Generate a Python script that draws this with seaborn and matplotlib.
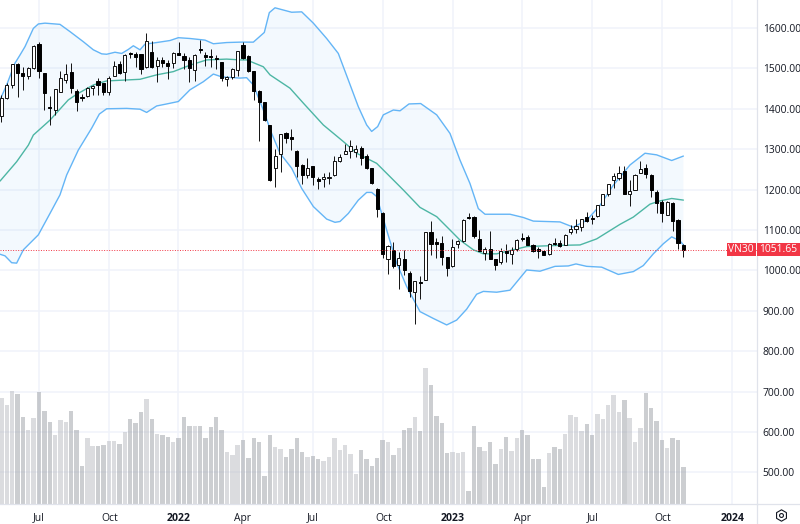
import numpy as np
import pandas as pd
import seaborn as sns
import matplotlib
matplotlib.use("Agg")
import matplotlib.pyplot as plt
from matplotlib.lines import Line2D
from matplotlib.patches import Rectangle

open_ = [1381,1426,1459,1510,1489,1481,1500,1560,1489,1405,1397,1442,1471,1491,1445,1428,1432,1451,1470,1463,
         1442,1482,1510,1492,1537,1536,1535,1503,1541,1507,1522,1514,1514,1537,1531,1522,1496,1549,1532,1531,
         1525,1515,1473,1479,1496,1558,1531,1494,1445,1416,1359,1254,1288,1339,1329,1296,1260,1236,1258,1225,
         1225,1228,1235,1270,1288,1296,1294,1302,1282,1253,1201,1143,1027,1051,1013,1028,994,947,971,976,
         1094,1071,1067,1032,1011,1065,1072,1132,1133,1078,1044,1053,1029,1020,1048,1041,1052,1080,1083,1062,
         1052,1047,1040,1068,1069,1063,1095,1103,1107,1131,1129,1134,1163,1190,1224,1229,1246,1190,1200,1242,
         1253,1237,1195,1170,1138,1167,1124,1063]
high = [1434,1463,1510,1513,1504,1504,1558,1566,1489,1432,1448,1494,1511,1514,1448,1437,1455,1459,1475,1463,
        1480,1519,1518,1536,1541,1541,1535,1587,1568,1529,1529,1521,1540,1565,1537,1529,1536,1570,1541,1548,
        1533,1517,1482,1500,1542,1566,1533,1494,1447,1418,1359,1301,1337,1343,1349,1298,1263,1277,1259,1230,
        1242,1244,1282,1288,1312,1322,1310,1308,1287,1254,1203,1145,1063,1070,1046,1051,999,974,986,1094,
        1122,1079,1084,1034,1078,1075,1127,1143,1134,1099,1058,1097,1029,1056,1066,1058,1078,1092,1088,1066,
        1058,1049,1068,1080,1076,1091,1113,1126,1128,1145,1136,1162,1190,1215,1242,1258,1258,1224,1238,1271,
        1263,1239,1200,1174,1171,1170,1126,1066]
low = [1368,1424,1451,1428,1447,1474,1499,1475,1397,1360,1385,1441,1463,1438,1395,1420,1430,1434,1434,1434,
       1434,1481,1486,1469,1525,1504,1486,1500,1500,1467,1504,1473,1500,1533,1498,1467,1469,1539,1507,1504,
       1498,1470,1457,1473,1480,1523,1492,1422,1321,1371,1222,1207,1244,1315,1298,1232,1214,1228,1211,1202,
       1207,1214,1233,1269,1287,1279,1280,1261,1251,1213,1131,1030,990,1005,953,989,935,867,928,975,
       1038,1030,1013,987,1009,1055,1070,1126,1081,1048,1026,1027,1001,1016,1020,1016,1049,1073,1062,1045,
       1030,1037,1039,1062,1058,1062,1091,1093,1097,1120,1116,1132,1161,1184,1203,1224,1189,1160,1199,1240,
       1229,1182,1141,1120,1136,1097,1053,1034]
close = [1426,1459,1510,1488,1481,1500,1555,1494,1438,1403,1448,1477,1486,1451,1418,1427,1451,1457,1459,1441,
         1477,1506,1488,1533,1536,1529,1499,1568,1504,1520,1513,1507,1537,1533,1522,1501,1533,1546,1529,1527,
         1523,1477,1479,1499,1542,1525,1494,1445,1418,1372,1224,1283,1337,1327,1326,1259,1236,1254,1232,1221,
         1230,1232,1272,1281,1296,1308,1301,1277,1253,1216,1153,1040,1061,1012,1030,1000,949,973,969,1094,
         1065,1066,1034,1005,1057,1072,1124,1130,1084,1048,1053,1029,1014,1047,1044,1051,1076,1078,1063,1047,
         1049,1039,1066,1066,1060,1088,1103,1110,1127,1122,1127,1161,1188,1213,1233,1242,1190,1196,1236,1250,
         1239,1198,1166,1141,1169,1122,1068,1051.65]
volume = [685,668,701,693,636,606,634,699,652,625,592,629,625,652,604,515,586,566,565,567,
          577,577,571,600,631,622,650,681,631,596,592,588,574,584,636,616,616,616,584,613,
          636,604,550,544,567,581,536,586,574,491,592,562,559,537,557,584,551,537,540,534,
          527,537,586,555,567,545,497,555,533,517,536,579,574,543,561,606,611,636,603,759,
          716,639,623,547,551,549,551,454,615,563,553,574,520,557,588,553,584,606,592,534,
          534,464,549,563,557,596,641,636,602,619,592,644,633,668,691,650,679,634,574,611,
          697,660,626,579,560,586,579,514]

upper_week = [0.74,1.98,3.53,4.46,5.4,6.95,7.88,9.12,11.91,13.78,16.26,18.12,19.67,20.6,22.15,23.4,24.64,25.57,26.81,27.74,
              29.91,32.4,33.95,36.12,38.92,40.47,42.95,45.43,47.92,49.96,50.89,51.95,55.05,56.92,59.09,61.57,63.74,65.61,67.47,69.02,
              69.95,71.07,72.12,73.99,75.23,76.9,79.08,82.06,84.54,86.4,88.26,89.81,91.06,95.71,98.19,100.06,105.02,107.5,109.99,112.47,
              114.95,118.06,120.85,123.02,125.82,128]
upper_band = [1422,1459,1513,1533,1554,1599,1610,1612,1609,1591,1566,1546,1536,1535,1540,1537,1547,1556,1546,1560,
              1564,1569,1576,1574,1570,1561,1564,1565,1565,1589,1638,1650,1639,1640,1612,1574,1537,1471,1405,1360,
              1344,1356,1385,1397,1395,1412,1413,1385,1339,1273,1215,1153,1139,1139,1131,1122,1120,1107,1124,1161,
              1211,1261,1290,1286,1272,1283]
lower_week = [0.74,1.67,2.91,3.84,5.09,7.88,10.05,11.91,13.15,15.33,17.81,19.24,20.6,24.33,26.81,28.05,29.91,31.78,33.95,36.12,
              38.6,40.47,42.02,45.43,46.67,47.92,49.78,51.33,52.88,55.05,56.92,59.09,61.57,63.12,64.05,65.61,67.47,69.02,69.95,70.88,
              72.74,74.61,76.47,78.95,81.44,83.92,85.78,87.64,89.5,90.75,93.23,95.71,98.81,101.3,104.09,106.57,108.0,109.99,112.78,115.88,
              118.68,120.54,122.4,124.27,125.82,127.37,128]
lower_band = [1040,1036,1019,1018,1051,1088,1141,1187,1236,1298,1352,1387,1400,1401,1399,1391,1407,1412,1418,1447,
              1467,1486,1479,1476,1477,1459,1397,1339,1290,1253,1203,1158,1127,1119,1121,1141,1174,1193,1193,1183,
              1100,1018,960,898,881,865,877,904,941,948,946,951,1001,998,1010,1011,1016,1010,1008,990,
              997,1012,1041,1066,1083,1073,1063]
mid_week = [0.74,3.84,6.02,6.95,10.05,13.46,15.02,18.12,20.6,23.71,26.81,29.91,33.02,36.12,39.22,42.95,45.43,46.67,49.78,51.02,
            54.74,57.23,60.95,64.67,67.16,70.88,73.37,75.85,78.95,82.06,84.54,86.4,88.88,90.75,93.23,95.71,98.81,105.02,108.75,111.85,
            116.2,118.68,121.78,123.64,125.82,128]
mid_band = [1221,1269,1310,1335,1372,1422,1436,1459,1469,1471,1473,1484,1492,1508,1521,1523,1521,1521,1504,1484,
            1451,1414,1360,1319,1290,1265,1232,1199,1156,1133,1100,1075,1051,1041,1041,1049,1059,1062,1063,1078,
            1114,1132,1164,1172,1178,1174]

x_tick_pos = [7.91,21.09,33.94,45.99,58.97,72.12,85.04,98.0,111.04,124.07,137.11]
x_tick_labels = ["Jul","Oct","2022","Apr","Jul","Oct","2023","Apr","Jul","Oct","2024"]
y_ticks = [500,600,700,800,900,1000,1100,1200,1300,1400,1500,1600]
last_price = 1051.65
symbol = "VN30"

TXT = "#131722"
GRID = "#f0f3fa"
LINE = "#e0e3eb"
FONT = "Open Sans"

sns.set_theme(style="white")
plt.rcParams["font.family"] = [FONT, "DejaVu Sans"]

W, H = 800, 524
fig = plt.figure(figsize=(W / 100, H / 100), dpi=100, facecolor="white")
ax_r, ax_b = 756.5, 503.5
ax = fig.add_axes([0, 1 - ax_b / H, ax_r / W, ax_b / H])
ax.set_facecolor("white")
ax.set_axisbelow(True)

df = pd.DataFrame({"week": np.arange(1, len(close) + 1), "open": open_, "high": high,
                   "low": low, "close": close, "volume": volume})
df["dir"] = np.where(df["close"] >= df["open"], "up", "down")
up = df[df["dir"] == "up"]
down = df[df["dir"] == "down"]

# volume columns, overlaid on the shared price scale
sns.barplot(data=df, x="week", y="volume", hue="dir", native_scale=True, dodge=False,
            palette={"up": "#b8bac2", "down": "#9a9da6"}, alpha=0.5, width=0.82,
            legend=False, errorbar=None, linewidth=0, ax=ax, zorder=1.5)

# Bollinger band fill and lines
ax.fill(np.r_[upper_week, lower_week[::-1]], np.r_[upper_band, lower_band[::-1]],
        color="#2196f3", alpha=0.05, linewidth=0, zorder=2)
for xs, ys, col in [(upper_week, upper_band, "#64b5f6"), (lower_week, lower_band, "#64b5f6"),
                    (mid_week, mid_band, "#4db6a4")]:
    sns.lineplot(x=xs, y=ys, sort=False, estimator=None, errorbar=None, color=col,
                 linewidth=1.0, ax=ax, zorder=2.5)

# candles
ax.vlines(df["week"], df["low"], df["high"], color="#111111", linewidth=0.7, zorder=3)
ax.bar(up["week"], up["close"] - up["open"], bottom=up["open"], width=0.58,
       facecolor="white", edgecolor="#111111", linewidth=0.7, zorder=3.5)
ax.bar(down["week"], down["close"] - down["open"], bottom=down["open"], width=0.58,
       facecolor="#000000", edgecolor="#000000", linewidth=0.7, zorder=3.5)

# last price
ax.axhline(last_price, color="#f23645", linewidth=0.7, linestyle=(0, (1, 1.6)), zorder=4)

ax.set_xlim(0.74, 0.74 + ax_r / 5.37)
ax.set_ylim(423, 1669.3)
ax.set_xlabel("")
ax.set_ylabel("")
ax.yaxis.tick_right()
ax.set_yticks(y_ticks)
ax.set_yticklabels([f"{v:.2f}" for v in y_ticks], fontsize=7.4, color=TXT)
ax.set_xticks(x_tick_pos)
ax.set_xticklabels(x_tick_labels, fontsize=7.4, color=TXT)
for lab in ax.get_xticklabels():
    if lab.get_text().isdigit():
        lab.set_fontweight("bold")
        lab.set_fontsize(7.6)
ax.tick_params(axis="x", length=0, pad=6.5)
ax.tick_params(axis="y", length=0, pad=4.5)
ax.grid(True, color=GRID, linewidth=1.1)
for s in ["top", "left"]:
    ax.spines[s].set_visible(False)
for s in ["right", "bottom"]:
    ax.spines[s].set_color(LINE)
    ax.spines[s].set_linewidth(0.9)

# pixel-placed chrome
to_fig = lambda px, py: (px / W, 1 - py / H)
fig.add_artist(Line2D([ax_r / W, 1], [1 - ax_b / H] * 2, color=LINE, lw=0.9))
fig.add_artist(Line2D([ax_r / W] * 2, [0, 1 - ax_b / H], color=LINE, lw=0.9))
for x0, x1, txt in [(726.7, 755.7, symbol), (756.7, 800, f"{last_price:.2f}")]:
    fig.add_artist(Rectangle(to_fig(x0, 256), (x1 - x0) / W, 12.8 / H, transform=fig.transFigure,
                             facecolor="#f23645", edgecolor="none", zorder=10))
    fig.text((x0 + x1) / 2 / W, 1 - 249.7 / H, txt, color="white", fontsize=7.4,
             ha="center", va="center", zorder=11)
hx, hy = to_fig(780.7, 515.3)
fig.add_artist(Line2D([hx], [hy], marker="h", markersize=8.2, markerfacecolor="none",
                      markeredgecolor=TXT, markeredgewidth=0.8, linestyle="none"))
fig.add_artist(Line2D([hx], [hy], marker="o", markersize=2.8, markerfacecolor="none",
                      markeredgecolor=TXT, markeredgewidth=0.8, linestyle="none"))

fig.savefig("out.png", dpi=100, facecolor="white")
